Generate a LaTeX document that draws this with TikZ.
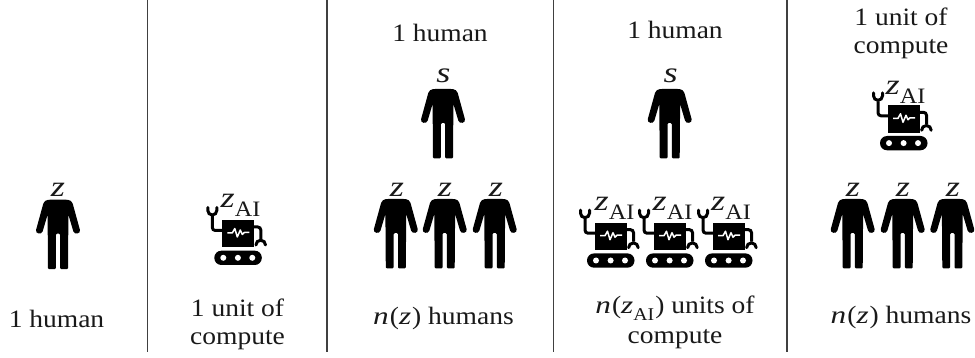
\documentclass[tikz,border=0pt]{standalone}
\usepackage{fontspec}
\setmainfont[FakeStretch=1.1]{Liberation Serif}
\newfontfamily\mathish[FakeStretch=1.25]{Liberation Serif}
\newcommand{\vz}{{\mathish\itshape z}}
\newcommand{\vs}{{\mathish\itshape s}}
\newcommand{\vn}{{\mathish\itshape n}}
\newcommand{\nz}{\vn\kern1pt(\vz\kern1pt)}
\newcommand{\zai}{\vz\raisebox{-0.32em}{\fontsize{22}{22}\selectfont AI}}
\tikzset{
  x=1pt,y=-1pt,
  divider/.style={draw=black!75,line width=1.8pt},
  lab/.style={font=\fontsize{25}{28}\selectfont,align=center,inner sep=0pt,text=black!90},
  var/.style={font=\fontsize{29}{29}\selectfont,inner sep=0pt,text=black!90},
  human/.pic={
    \fill[black,rounded corners=1.2pt] (-9,0) .. controls (-12,0.5) and (-14,1.5) .. (-15,5)
      -- (-21.6,29) .. controls (-23,34) and (-16.5,35.5) .. (-15,30.5)
      -- (-10.4,15) -- (-10,69.5) -- (-2.2,69.5) -- (-2.2,34) -- (2.2,34) -- (2.2,69.5) -- (10,69.5)
      -- (10.4,15) -- (15,30.5) .. controls (16.5,35.5) and (23,34) .. (21.6,29)
      -- (15,5) .. controls (14,1.5) and (12,0.5) .. (9,0) -- cycle;
  },
  robot/.pic={
    \fill[black] (0,0) rectangle (31.5,27.5);
    \fill[black,rounded corners=7pt] (-8,30.7) rectangle (39.5,45);
    \fill[white] (1,37.8) circle (3) (15.6,37.8) circle (3) (30,37.8) circle (3);
    \draw[white,line width=1.5pt,line join=round] (5,13) -- (10,13) -- (12.5,8.5) -- (15,17) -- (18,10) -- (20,14.5) -- (22,12.5) -- (27,12.5);
    \draw[black,line width=3pt,rounded corners=3pt] (0,10.5) -- (-10,10.5) -- (-10,-4);
    \draw[black,line width=3pt,line cap=round] (-14.5,-12.5) -- (-14.5,-9.5) arc[start angle=180,end angle=0,radius=4.5] -- (-5.5,-12.5);
    \draw[black,line width=3pt,rounded corners=3pt] (31,7) -- (38.5,7) -- (38.5,19);
    \draw[black,line width=3pt,line cap=round] (33.6,25) arc[start angle=180,end angle=360,radius=4.8];
  },
}
\begin{document}
\begin{tikzpicture}
\useasboundingbox (0,0) rectangle (975,358);
\fill[white] (0,0) rectangle (975,358);
\foreach \nm/\xx in {a/147.5,b/327,c/553.5,d/787.3}{
  \coordinate (\nm top) at (\xx,0);
  \coordinate (\nm bot) at (\xx,352);
  \draw[divider] (\nm top) -- (\nm bot);
}
% column 1
\pic at (58,199.7) {human};
\node[var] (z1) at (58,190) {\vz};
\node[lab] (l1) at (56.5,318.6) {1 human};
% column 2
\pic at (222.3,220) {robot};
\node[var] (z2) at (240.5,205) {\zai};
\node[lab] (l2) at (237.5,324) {1 unit of\\compute};
% column 3
\node[lab] (t3) at (440,33) {1 human};
\pic at (443,89) {human};
\node[var] (s3) at (443.3,76) {\vs};
\pic at (395.8,199) {human};
\pic at (444.7,199) {human};
\pic at (494.7,199) {human};
\node[var] (z3a) at (397,190) {\vz};
\node[var] (z3b) at (445,190) {\vz};
\node[var] (z3c) at (496,190) {\vz};
\node[lab] (l3) at (443.5,318) {\nz\ humans};
% column 4
\node[lab] (t4) at (675,30) {1 human};
\pic at (669.7,89) {human};
\node[var] (s4) at (670.7,76) {\vs};
\pic at (595,222.7) {robot};
\pic at (654,222.7) {robot};
\pic at (713,222.7) {robot};
\node[var] (z4a) at (614.5,208) {\zai};
\node[var] (z4b) at (672.5,208) {\zai};
\node[var] (z4c) at (731,208) {\zai};
\node[lab] (l4) at (675,322) {\vn\kern1pt(\vz\raisebox{-0.3em}{\fontsize{18}{18}\selectfont AI}\kern1pt) units of\\[2pt]compute};
% column 5
\node[lab] (t5) at (901,33) {1 unit of\\compute};
\pic at (888,105.3) {robot};
\node[var] (z5) at (905.5,92.2) {\zai};
\pic at (852.7,199) {human};
\pic at (902.7,199) {human};
\pic at (952.3,199) {human};
\node[var] (z5a) at (853,190) {\vz};
\node[var] (z5b) at (903,190) {\vz};
\node[var] (z5c) at (953,190) {\vz};
\node[lab] (l5) at (901,317) {\nz\ humans};
\end{tikzpicture}
\end{document}
